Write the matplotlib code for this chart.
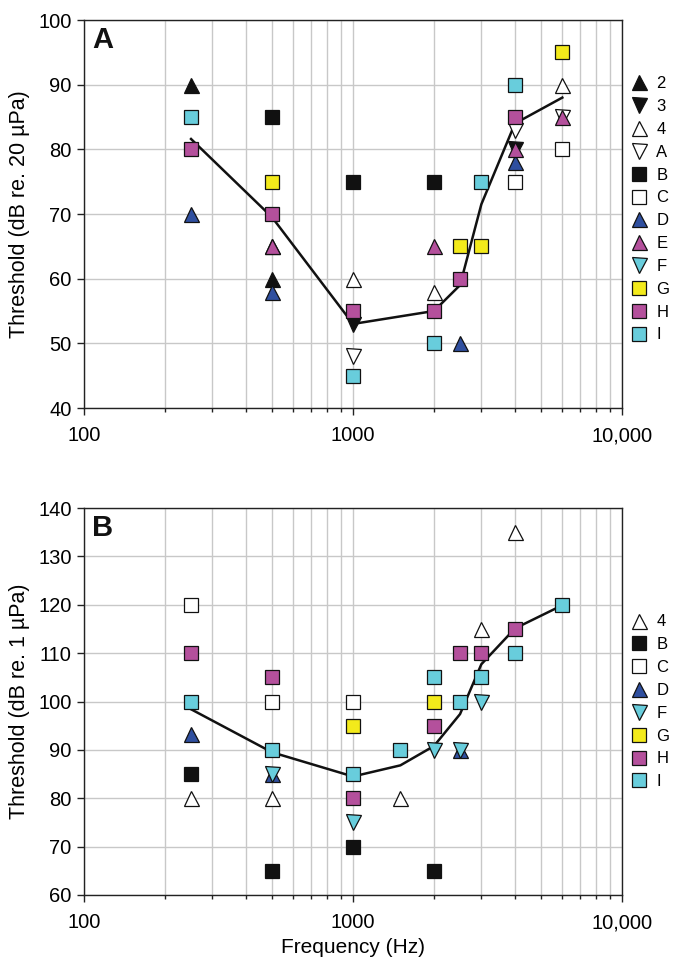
import matplotlib
matplotlib.use("Agg")
import matplotlib.pyplot as plt
from matplotlib.lines import Line2D
from matplotlib.ticker import FixedLocator, FuncFormatter, NullFormatter

plt.rcParams['font.family'] = ['Liberation Sans', 'DejaVu Sans']

# ---------------- Panel A data (dB re. 20 uPa) ----------------
a_2_f = [250, 500];                 a_2_y = [90, 60]
a_3_f = [1000, 4000];               a_3_y = [53, 80]
a_4_f = [500, 1000, 2000, 6000];    a_4_y = [65, 60, 58, 90]
a_A_f = [1000, 4000, 6000];         a_A_y = [48, 83, 85]
a_B_f = [500, 1000, 2000];          a_B_y = [85, 75, 75]
a_C_f = [4000, 6000];               a_C_y = [75, 80]
a_D_f = [250, 500, 2500, 4000];     a_D_y = [70, 58, 50, 78]
a_E_f = [500, 2000, 4000, 6000];    a_E_y = [65, 65, 80, 85]
a_F_f = [];                         a_F_y = []
a_G_f = [500, 2500, 3000, 6000];    a_G_y = [75, 65, 65, 95]
a_H_f = [250, 500, 1000, 2000, 2500, 4000]; a_H_y = [80, 70, 55, 55, 60, 85]
a_I_f = [250, 1000, 2000, 3000, 4000];      a_I_y = [85, 45, 50, 75, 90]
a_mean_f = [250, 500, 1000, 2000, 2500, 3000, 4000, 6000]
a_mean_y = [81.6, 69.5, 53, 55, 59, 71.5, 84, 88]

# ---------------- Panel B data (dB re. 1 uPa) ----------------
b_4_f = [250, 500, 1500, 3000, 4000];       b_4_y = [80, 80, 80, 115, 135]
b_B_f = [250, 500, 1000, 2000];             b_B_y = [85, 65, 70, 65]
b_C_f = [250, 500, 1000];                   b_C_y = [120, 100, 100]
b_D_f = [250, 500, 2500];                   b_D_y = [93.3, 85, 90]
b_F_f = [500, 1000, 2000, 2500, 3000];      b_F_y = [85, 75, 90, 90, 100]
b_G_f = [1000, 2000];                       b_G_y = [95, 100]
b_H_f = [250, 500, 1000, 2000, 2500, 3000, 4000]; b_H_y = [110, 105, 80, 95, 110, 110, 115]
b_I_f = [250, 500, 1000, 1500, 2000, 2500, 3000, 4000, 6000]
b_I_y = [100, 90, 85, 90, 105, 100, 105, 110, 120]
b_mean_f = [250, 500, 1000, 1500, 2000, 2500, 3000, 4000, 6000]
b_mean_y = [98.4, 89.5, 84.5, 86.8, 90.8, 97.4, 107.7, 115.1, 119.9]

x_ticks = [100, 1000, 10000]
x_ticklabels = ['100', '1000', '10,000']

BLACK = '#111111'
BLUE = '#2f4f9f'
MAG = '#b4509c'
CYAN = '#68cddc'
YEL = '#f3ea1b'
WHITE = '#ffffff'

styles = {
    '2': ('^', BLACK),
    '3': ('v', BLACK),
    '4': ('^', WHITE),
    'A': ('v', WHITE),
    'B': ('s', BLACK),
    'C': ('s', WHITE),
    'D': ('^', BLUE),
    'E': ('^', MAG),
    'F': ('v', CYAN),
    'G': ('s', YEL),
    'H': ('s', MAG),
    'I': ('s', CYAN),
}

MS_SQ = 9.7
MS_TRI = 10.8

def ms(marker):
    return MS_SQ if marker == 's' else MS_TRI

fig = plt.figure(figsize=(6.79, 9.6), dpi=100)
axA = fig.add_axes([84/679, 1-408/960, 538/679, 388/960])
axB = fig.add_axes([84/679, 1-895/960, 538/679, 387/960])

panelA = [('2', a_2_f, a_2_y), ('3', a_3_f, a_3_y), ('4', a_4_f, a_4_y),
          ('A', a_A_f, a_A_y), ('B', a_B_f, a_B_y), ('C', a_C_f, a_C_y),
          ('D', a_D_f, a_D_y), ('E', a_E_f, a_E_y), ('F', a_F_f, a_F_y),
          ('G', a_G_f, a_G_y), ('H', a_H_f, a_H_y), ('I', a_I_f, a_I_y)]
panelB = [('4', b_4_f, b_4_y), ('B', b_B_f, b_B_y), ('C', b_C_f, b_C_y),
          ('D', b_D_f, b_D_y), ('F', b_F_f, b_F_y), ('G', b_G_f, b_G_y),
          ('H', b_H_f, b_H_y), ('I', b_I_f, b_I_y)]

def setup(ax, ylim, yticks, ylabel, letter, xlabel=None):
    ax.set_xscale('log')
    ax.set_xlim(100, 10000)
    ax.set_ylim(*ylim)
    ax.xaxis.set_major_locator(FixedLocator(x_ticks))
    ax.xaxis.set_major_formatter(FuncFormatter(
        lambda v, p: x_ticklabels[x_ticks.index(int(round(v)))] if int(round(v)) in x_ticks else ''))
    ax.xaxis.set_minor_formatter(NullFormatter())
    ax.set_yticks(yticks)
    ax.grid(True, which='major', color='#c8c8c8', linewidth=1.0, zorder=0)
    ax.grid(True, which='minor', axis='x', color='#c8c8c8', linewidth=1.0, zorder=0)
    ax.set_axisbelow(True)
    for s in ax.spines.values():
        s.set_color('#222222')
        s.set_linewidth(1.0)
    ax.tick_params(axis='both', which='major', direction='out', length=5,
                   width=1, labelsize=14.5, color='#222222', pad=4)
    ax.tick_params(axis='x', which='minor', direction='out', length=3,
                   width=1, color='#222222')
    ax.tick_params(axis='x', which='major', pad=8)
    ax.set_ylabel(ylabel, fontsize=15.5, labelpad=6)
    if xlabel:
        ax.set_xlabel(xlabel, fontsize=15, labelpad=4)
    ax.text(0.015, 0.985, letter, transform=ax.transAxes, fontsize=21,
            fontweight='bold', va='top', ha='left', color=BLACK)

def draw(ax, series, mean_f, mean_y, legend_y):
    ax.plot(mean_f, mean_y, color=BLACK, linewidth=1.8, zorder=3)
    handles = []
    for i, (name, f, y) in enumerate(series):
        mk, col = styles[name]
        ax.plot(f, y, linestyle='none', marker=mk, markersize=ms(mk),
                markerfacecolor=col, markeredgecolor=BLACK,
                markeredgewidth=0.9, zorder=4 + i, clip_on=False)
        handles.append(Line2D([], [], linestyle='none', marker=mk,
                              markersize=ms(mk), markerfacecolor=col,
                              markeredgecolor=BLACK, markeredgewidth=0.9,
                              label=name))
    ax.legend(handles=handles, loc='upper left',
              bbox_to_anchor=(1.017, legend_y), frameon=False,
              fontsize=12, handlelength=1.0, handletextpad=0.5,
              labelspacing=0.47, borderaxespad=0.0, borderpad=0.0)

setup(axA, (40, 100), list(range(40, 101, 10)),
      'Threshold (dB re. 20 µPa)', 'A')
draw(axA, panelA, a_mean_f, a_mean_y, 0.855)

setup(axB, (60, 140), list(range(60, 141, 10)),
      'Threshold (dB re. 1 µPa)', 'B', xlabel='Frequency (Hz)')
draw(axB, panelB, b_mean_f, b_mean_y, 0.725)

fig.savefig('out.png', dpi=100)
